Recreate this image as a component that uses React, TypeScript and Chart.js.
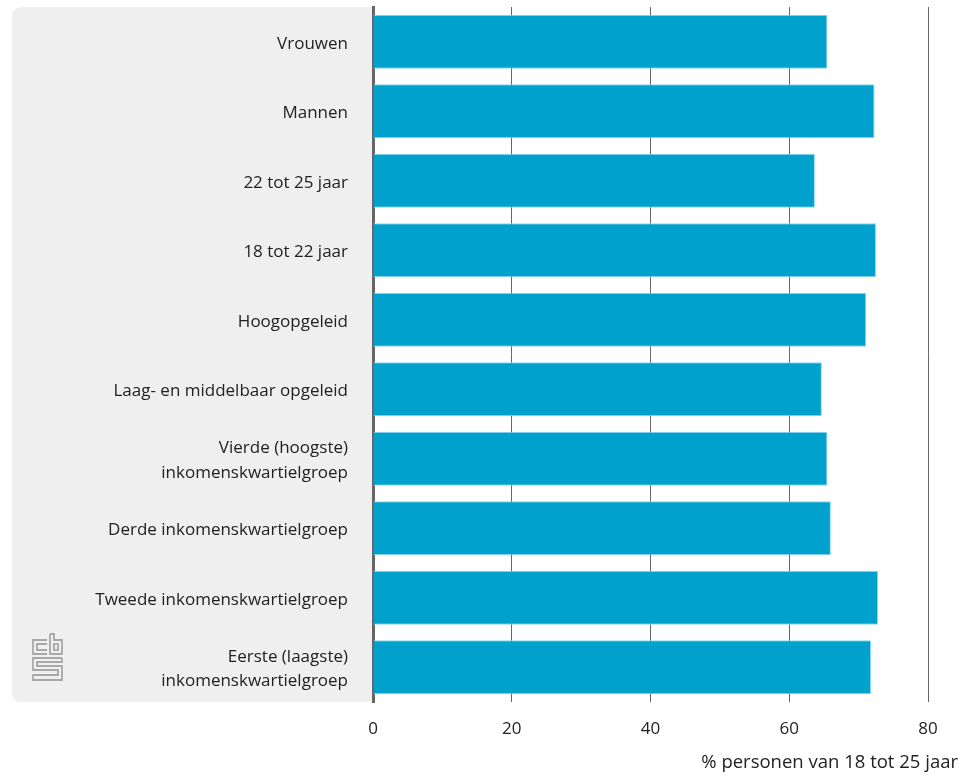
import React, { useEffect, useRef } from "react";
import { Chart, registerables } from "chart.js";

Chart.register(...registerables);

const categories: (string | string[])[] = [
  "Vrouwen",
  "Mannen",
  "22 tot 25 jaar",
  "18 tot 22 jaar",
  "Hoogopgeleid",
  "Laag- en middelbaar opgeleid",
  ["Vierde (hoogste)", "inkomenskwartielgroep"],
  "Derde inkomenskwartielgroep",
  "Tweede inkomenskwartielgroep",
  ["Eerste (laagste)", "inkomenskwartielgroep"],
];

const values: number[] = [65.5, 72.3, 63.7, 72.5, 71.1, 64.7, 65.5, 66.0, 72.8, 71.8];

const xTicks: number[] = [0, 20, 40, 60, 80];
const axisTitle = "% personen van 18 tot 25 jaar";

const FONT = "'Open Sans', 'Noto Sans', sans-serif";
const FS = 17;

const panelPlugin = {
  id: "panel",
  beforeDraw(chart: any) {
    const { ctx, chartArea } = chart;
    const x0 = 12;
    const y0 = chartArea.top;
    const x1 = chartArea.left;
    const y1 = chartArea.bottom;
    const r = 10;
    ctx.save();
    ctx.fillStyle = "#efefef";
    ctx.beginPath();
    ctx.moveTo(x0 + r, y0);
    ctx.lineTo(x1, y0);
    ctx.lineTo(x1, y1);
    ctx.lineTo(x0 + r, y1);
    ctx.quadraticCurveTo(x0, y1, x0, y1 - r);
    ctx.lineTo(x0, y0 + r);
    ctx.quadraticCurveTo(x0, y0, x0 + r, y0);
    ctx.closePath();
    ctx.fill();

    // CBS logo (simplified)
    ctx.strokeStyle = "#a8a8a8";
    ctx.lineWidth = 1.8;
    const ox = 32;
    const oy = 633;
    const line = (pts: number[][]) => {
      ctx.beginPath();
      ctx.moveTo(ox + pts[0][0], oy + pts[0][1]);
      for (let i = 1; i < pts.length; i++) ctx.lineTo(ox + pts[i][0], oy + pts[i][1]);
      ctx.stroke();
    };
    // c
    line([[15, 7], [1, 7], [1, 21], [15, 21]]);
    line([[15, 11], [5, 11], [5, 17], [15, 17]]);
    // b
    line([[18, 1], [18, 21], [30, 21], [30, 7], [22, 7], [22, 1], [18, 1]]);
    ctx.strokeRect(ox + 22, oy + 11, 4, 6);
    // s
    line([[30, 25], [1, 25], [1, 37], [26, 37], [26, 42], [1, 42], [1, 47], [30, 47], [30, 33], [5, 33], [5, 29], [30, 29], [30, 25]]);
    ctx.restore();
  },
  afterDraw(chart: any) {
    const { ctx } = chart;
    ctx.save();
    ctx.fillStyle = "#222";
    ctx.font = `18.5px ${FONT}`;
    ctx.textAlign = "right";
    ctx.textBaseline = "middle";
    ctx.fillText(axisTitle, 958, 763);
    ctx.restore();
  },
};

export default function App() {
  const ref = useRef<HTMLCanvasElement>(null);
  useEffect(() => {
    if (!ref.current) return;
    const chart = new Chart(ref.current, {
      type: "bar",
      data: {
        labels: categories,
        datasets: [
          {
            data: values,
            backgroundColor: "#00a1cd",
            borderColor: "#8fd6ef",
            borderWidth: 1,
            barPercentage: 0.78,
            categoryPercentage: 1,
          },
        ],
      },
      plugins: [panelPlugin],
      options: {
        indexAxis: "y",
        animation: false,
        responsive: false,
        maintainAspectRatio: false,
        layout: { padding: { top: 7, right: 40, left: 0, bottom: 0 } },
        plugins: { legend: { display: false }, tooltip: { enabled: false } },
        scales: {
          x: {
            min: 0,
            max: 80,
            afterBuildTicks: (scale: any) => {
              scale.ticks = xTicks.map((v) => ({ value: v }));
            },
            afterFit: (scale: any) => {
              scale.height = 74;
            },
            grid: { color: "#666", lineWidth: 1, drawTicks: false },
            border: { display: false },
            ticks: {
              color: "#222",
              font: { family: FONT, size: FS },
              padding: 17,
            },
          },
          y: {
            grid: { display: false, drawTicks: false },
            border: { display: true, color: "#666", width: 3 },
            afterFit: (scale: any) => {
              scale.width = 373;
              scale.paddingTop = 0;
              scale.paddingBottom = 0;
            },
            ticks: {
              color: "#222",
              font: { family: FONT, size: FS, lineHeight: 1.45 },
              padding: 25,
              labelOffset: 2,
            },
          },
        },
      },
    });
    return () => chart.destroy();
  }, []);
  return (
    <div style={{ position: "absolute", left: 0, top: 0, width: 968, height: 776, background: "#fff" }}>
      <canvas ref={ref} width={968} height={776} style={{ width: 968, height: 776 }} />
    </div>
  );
}
